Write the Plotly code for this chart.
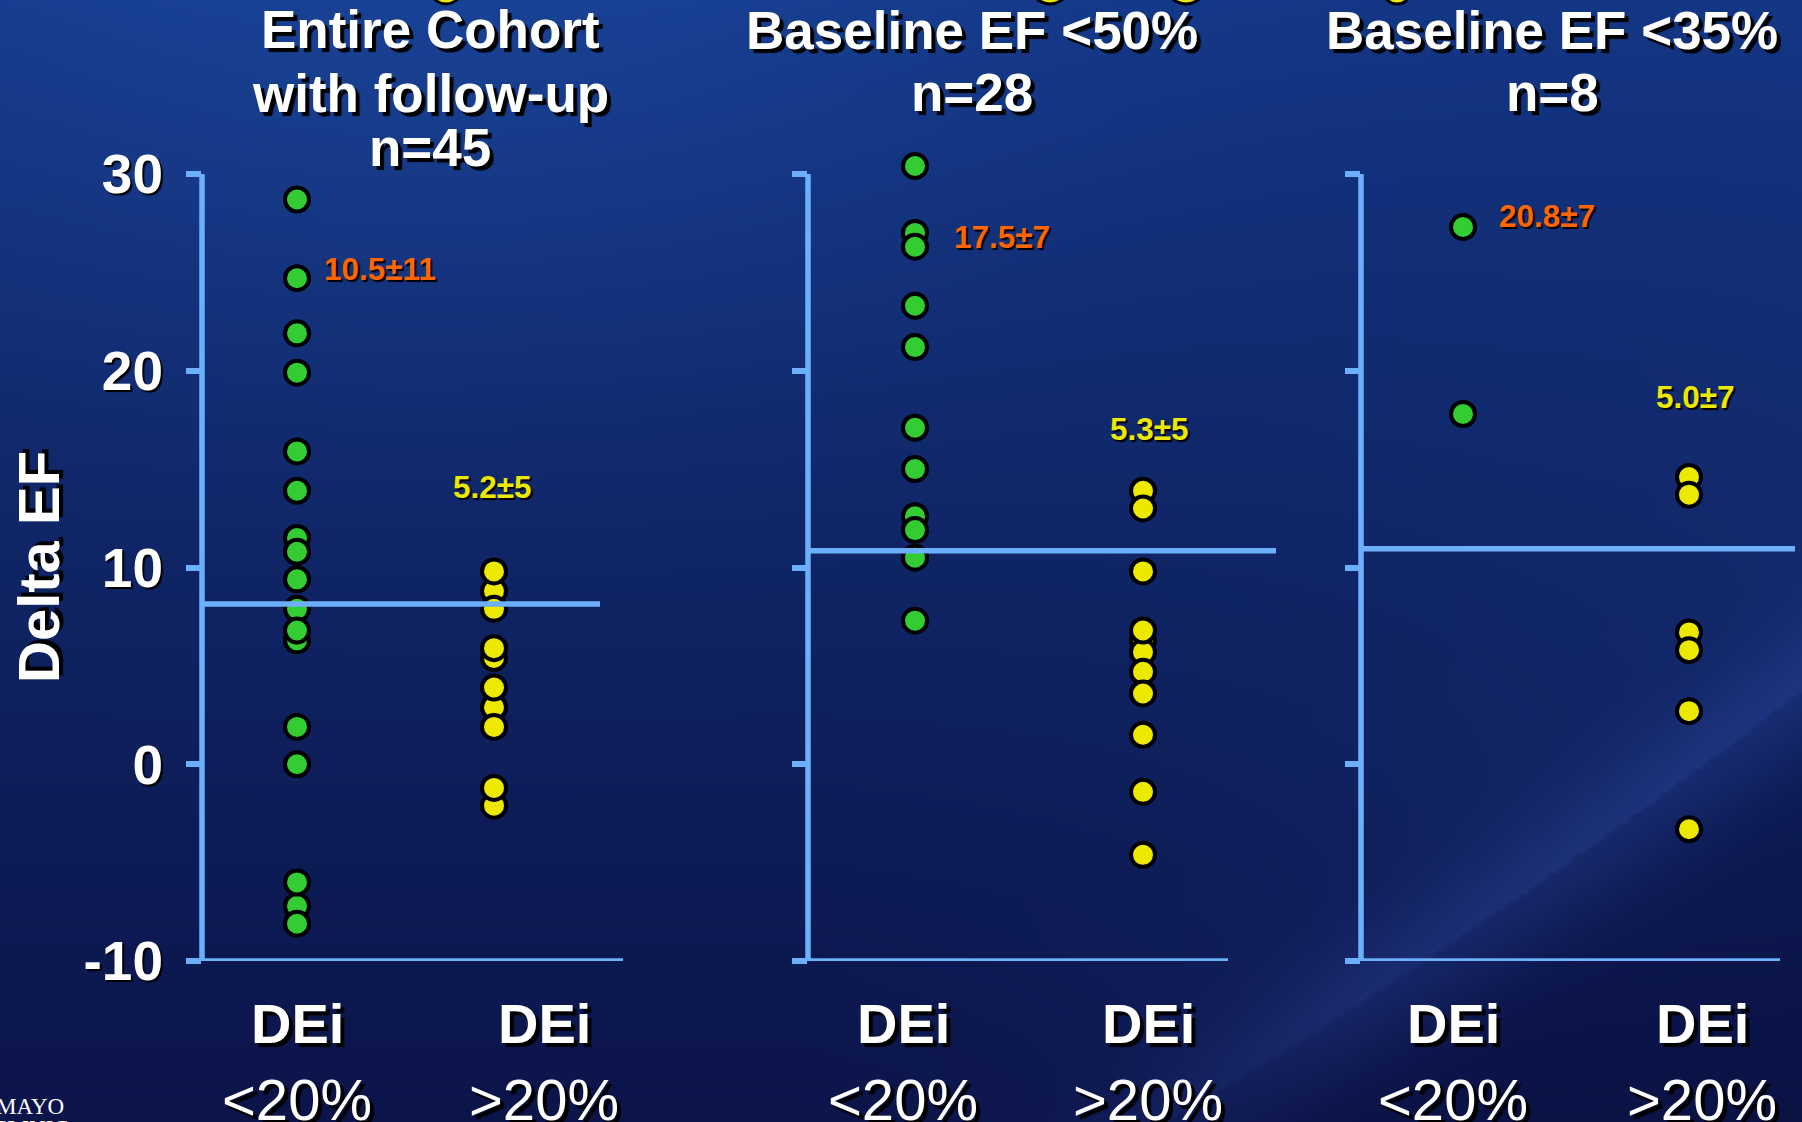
import base64
import struct
import zlib

import numpy as np
import plotly.graph_objects as go

W, H = 1802, 1122

# ---------------------------------------------------------------- data
panel_titles = [
    ["Entire Cohort", "with follow-up", "n=45"],
    ["Baseline EF <50%", "n=28"],
    ["Baseline EF <35%", "n=8"],
]
group_names = ["DEi", "DEi"]
group_cutoffs = ["<20%", ">20%"]
y_ticks = [-10, 0, 10, 20, 30]
y_tick_text = ["-10", "0", "10", "20", "30"]

# change in EF per patient, DEi < 20 % group
dei_low = [
    [11.5, 6.3, -7.2, 28.7, 24.7, 21.9, 19.9, 15.9, 13.9, 10.8, 9.4, 7.9, 6.8,
     1.9, 0.0, -6.0, -8.1],
    [27.0, 12.6, 30.4, 26.3, 23.3, 21.2, 17.1, 15.0, 11.9, 10.5, 7.3],
    [27.3, 17.8],
]
# change in EF per patient, DEi > 20 % group
dei_high = [
    [8.8, 5.4, 2.9, -2.1, 9.8, 7.9, 5.9, 3.9, 1.9, -1.2],
    [13.9, 6.3, 5.7, 13.0, 9.8, 6.8, 4.7, 3.6, 1.5, -1.4, -4.6],
    [14.6, 6.7, 13.7, 5.8, 2.7, -3.3],
]
low_summary = ["10.5±11", "17.5±7", "20.8±7"]
high_summary = ["5.2±5", "5.3±5", "5.0±7"]
reference_lines = [8.15, 10.85, 10.95]

# ---------------------------------------------------------------- style
FONT = "Liberation Sans, Arial, sans-serif"
AXIS_BLUE = "#6cb0fc"
GREEN = "#33cc33"
YELLOW = "#ece800"
ORANGE = "#ff6600"
SHADOW = "4px 4px 1px #000000"
LINE_W = 5.5

# pixel layout of the three panels
panels = [
    dict(left=202, right=623, c1=297, c2=494, line_end=600,
         lab1=297, lab2=544, low_xy=(380, 269), high_xy=(492, 487),
         title_x=430, title_y=[30, 94, 148]),
    dict(left=808, right=1228, c1=915, c2=1143, line_end=1276,
         lab1=903, lab2=1148, low_xy=(1002, 237), high_xy=(1149, 429),
         title_x=972, title_y=[31, 92]),
    dict(left=1361, right=1780, c1=1463, c2=1689, line_end=1795,
         lab1=1453, lab2=1702, low_xy=(1547, 216), high_xy=(1695, 397),
         title_x=1552, title_y=[31, 92]),
]
PX_PER_UNIT = 19.68
Y_BOT_PX = 961.1            # pixel row of y = -10
Y_RANGE = [-10, 32]         # a little headroom so the 30.4 point is kept
Y_TOP_PX = Y_BOT_PX - (Y_RANGE[1] - Y_RANGE[0]) * PX_PER_UNIT
TICK_LEN = 15


def px(x):
    return x / W


def py(y):
    return 1 - y / H


# ---------------------------------------------------------------- background
def png_uri(rgb):
    h, w, _ = rgb.shape
    raw = b"".join(b"\x00" + rgb[i].tobytes() for i in range(h))

    def chunk(tag, data):
        c = struct.pack(">I", len(data)) + tag + data
        return c + struct.pack(">I", zlib.crc32(tag + data) & 0xFFFFFFFF)

    png = b"\x89PNG\r\n\x1a\n"
    png += chunk(b"IHDR", struct.pack(">IIBBBBB", w, h, 8, 2, 0, 0, 0))
    png += chunk(b"IDAT", zlib.compress(raw, 9))
    png += chunk(b"IEND", b"")
    return "data:image/png;base64," + base64.b64encode(png).decode()


def backdrop(scale=4):
    h, w = H // scale, W // scale
    yy, xx = np.mgrid[0:h, 0:w].astype(float)
    X, Y = xx * scale, yy * scale
    t = np.clip(Y / H, 0, 1) ** 0.85
    top = np.array([19, 54, 132], float)
    bot = np.array([12, 21, 74], float)
    img = top[None, None, :] * (1 - t[..., None]) + bot[None, None, :] * t[..., None]
    glow = np.exp(-((X - 420) / 650) ** 2 - ((Y - 40) / 380) ** 2)
    img += glow[..., None] * np.array([6, 12, 18])
    # soft light sweep in the lower right, curving gently upward
    d = ((X - 1234) * 300 + (Y - 1083) * 448) / 539.0
    d = d + 0.00012 * (X - 1450) ** 2
    fade = np.clip((X - 950) / 400, 0, 1)
    band = np.exp(-(d / 60) ** 2) * fade
    haze = np.where(d < 0, np.exp(d / 280), 0) * np.clip((X - 800) / 700, 0, 1)
    dark = np.where(d > 0, 1 - np.exp(-d / 80), 0) * fade
    img += band[..., None] * np.array([9, 12, 20])
    img += haze[..., None] * np.array([6, 9, 14])
    img -= dark[..., None] * np.array([1, 3, 6])
    return np.clip(img, 0, 255).astype(np.uint8)


fig = go.Figure()

# ---------------------------------------------------------------- panels
y_dom = [py(Y_BOT_PX), py(Y_TOP_PX)]
shapes = []
annotations = []

for k, p in enumerate(panels):
    sfx = "" if k == 0 else str(k + 1)
    xa, ya = "x" + sfx, "y" + sfx
    unit = p["c2"] - p["c1"]
    x_range = [1 - (p["c1"] - p["left"]) / unit, 2 + (p["right"] - p["c2"]) / unit]

    fig.add_trace(go.Scatter(
        x=[1] * len(dei_low[k]), y=dei_low[k], mode="markers", xaxis=xa, yaxis=ya,
        marker=dict(size=24, color=GREEN, line=dict(color="black", width=4)),
        cliponaxis=False, hoverinfo="skip", showlegend=False))
    fig.add_trace(go.Scatter(
        x=[2] * len(dei_high[k]), y=dei_high[k], mode="markers", xaxis=xa, yaxis=ya,
        marker=dict(size=24, color=YELLOW, line=dict(color="black", width=4)),
        cliponaxis=False, hoverinfo="skip", showlegend=False))

    fig.layout["xaxis" + sfx] = dict(
        domain=[px(p["left"]), px(p["right"])], range=x_range, anchor=ya,
        showline=False, showgrid=False, zeroline=False, showticklabels=False,
        ticks="", fixedrange=True, automargin=False)
    fig.layout["yaxis" + sfx] = dict(
        domain=y_dom, range=Y_RANGE, anchor=xa,
        tickvals=y_ticks, ticktext=y_tick_text,
        showline=False, showgrid=False, zeroline=False,
        ticks="outside", ticklen=TICK_LEN, tickwidth=LINE_W, tickcolor=AXIS_BLUE,
        showticklabels=(k == 0), ticklabelstandoff=12,
        tickfont=dict(family=FONT, size=55, color="white", weight="bold",
                      shadow="2px 2px 1px #000000"),
        fixedrange=True, automargin=False)

    # axis frame: vertical scale line up to 30, baseline along -10
    shapes.append(dict(type="line", xref="paper", yref=ya,
                       x0=px(p["left"]), x1=px(p["left"]), y0=y_ticks[0], y1=y_ticks[-1],
                       line=dict(color=AXIS_BLUE, width=LINE_W)))
    shapes.append(dict(type="line", xref="paper", yref=ya,
                       x0=px(p["left"] - TICK_LEN), x1=px(p["right"]),
                       y0=y_ticks[0], y1=y_ticks[0],
                       line=dict(color=AXIS_BLUE, width=LINE_W)))
    # reference line across the panel
    shapes.append(dict(type="line", xref="paper", yref=ya,
                       x0=px(p["left"]), x1=px(p["line_end"]),
                       y0=reference_lines[k], y1=reference_lines[k],
                       line=dict(color=AXIS_BLUE, width=LINE_W)))

    for line, ty in zip(panel_titles[k], p["title_y"]):
        annotations.append(dict(
            text=line, x=px(p["title_x"]), y=py(ty), xref="paper", yref="paper",
            showarrow=False, xanchor="center", yanchor="middle",
            font=dict(family=FONT, size=53, color="white", weight="bold",
                      shadow=SHADOW)))

    for lx, nm, cut in zip([p["lab1"], p["lab2"]], group_names, group_cutoffs):
        annotations.append(dict(
            text=nm, x=px(lx), y=py(1024), xref="paper", yref="paper",
            showarrow=False, xanchor="center", yanchor="middle",
            font=dict(family=FONT, size=56, color="white", weight="bold",
                      shadow=SHADOW)))
        annotations.append(dict(
            text=cut, x=px(lx), y=py(1099), xref="paper", yref="paper",
            showarrow=False, xanchor="center", yanchor="middle",
            font=dict(family=FONT, size=58, color="white", shadow=SHADOW)))

    for txt, (sx, sy), col in ((low_summary[k], p["low_xy"], ORANGE),
                               (high_summary[k], p["high_xy"], YELLOW)):
        annotations.append(dict(
            text=txt, x=px(sx), y=py(sy), xref="paper", yref="paper",
            showarrow=False, xanchor="center", yanchor="middle",
            font=dict(family=FONT, size=31.5, color=col, weight="bold",
                      shadow="2px 2px 1px #000000")))

# y-axis title
annotations.append(dict(
    text="Delta EF", x=px(38), y=py(567), xref="paper", yref="paper",
    showarrow=False, textangle=-90, xanchor="center", yanchor="middle",
    font=dict(family=FONT, size=58, color="white", weight="bold", shadow=SHADOW)))

# logo text, bottom left
annotations.append(dict(
    text="MAYO", x=px(-6), y=py(1106), xref="paper", yref="paper",
    showarrow=False, xanchor="left", yanchor="middle",
    font=dict(family="Liberation Serif, Times New Roman, serif", size=23, color="white")))
annotations.append(dict(
    text="CLINIC", x=px(-10), y=py(1128), xref="paper", yref="paper",
    showarrow=False, xanchor="left", yanchor="middle",
    font=dict(family="Liberation Serif, Times New Roman, serif", size=23, color="white")))

# edges of yellow discs peeking in at the top border
for cx, r in ((446, 16), (1050, 19), (1186, 20), (1397, 14)):
    shapes.append(dict(type="circle", xref="paper", yref="paper",
                       x0=px(cx - r), x1=px(cx + r), y0=py(4), y1=py(4 - 2 * r),
                       fillcolor=YELLOW, line=dict(color="black", width=3)))

fig.update_layout(
    width=W, height=H, margin=dict(l=0, r=0, t=0, b=0, pad=0, autoexpand=False),
    paper_bgcolor="#0c1a55", plot_bgcolor="rgba(0,0,0,0)",
    shapes=shapes, annotations=annotations, showlegend=False,
    images=[dict(source=png_uri(backdrop()), xref="paper", yref="paper",
                 x=0, y=1, sizex=1, sizey=1, xanchor="left", yanchor="top",
                 sizing="stretch", layer="below")],
)

fig.write_html("out.html", config={"displayModeBar": False})
